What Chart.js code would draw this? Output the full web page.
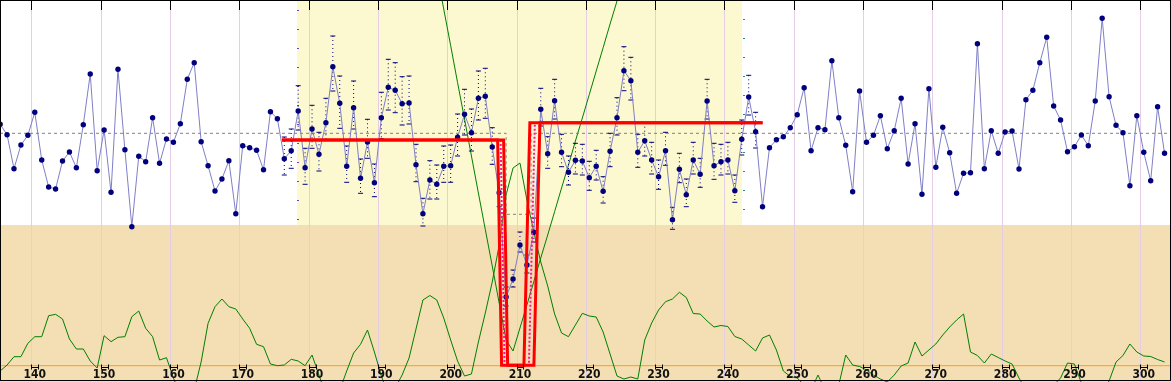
<!DOCTYPE html>
<html><head><meta charset="utf-8">
<script src="https://cdn.jsdelivr.net/npm/chart.js@4.4.1/dist/chart.umd.min.js"></script>
<style>html,body{margin:0;padding:0;background:#fff;overflow:hidden}canvas{display:block}</style>
</head><body>
<canvas id="c" width="1171" height="382"></canvas>
<script>
// ---------- data ----------
const FIRST_CATEGORY = 135;
const measurements = [
 24.14,23.10,19.70,22.07,23.04,25.34,20.57,17.87,17.67,20.47,
 21.37,19.80,24.10,29.17,19.50,23.57,17.34,29.64,21.60,13.90,
 20.94,20.40,24.80,20.24,22.67,22.34,24.20,28.64,30.30,22.40,
 20.00,17.47,18.67,20.50,15.20,22.00,21.80,21.54,19.60,25.40,
 24.70,20.70,21.50,25.47,19.80,23.67,21.14,24.30,29.90,26.24,
 19.94,25.80,18.74,22.37,18.30,24.80,27.84,27.54,26.20,26.27,
 20.10,15.20,18.57,18.14,19.94,20.00,22.84,25.14,23.30,26.74,
 26.94,21.87,17.30,6.87,8.67,12.07,10.07,13.34,25.64,21.20,
 26.50,21.34,19.34,20.54,20.47,18.80,19.94,17.44,21.44,24.80,
 29.50,28.50,21.34,22.50,20.57,18.90,21.50,14.60,19.64,17.10,
 20.57,19.14,26.47,20.00,20.40,20.57,17.50,22.64,26.87,23.40,
 15.90,21.80,22.60,22.90,23.80,25.10,27.80,21.50,23.80,23.60,
 30.50,24.80,22.04,17.40,27.47,22.34,23.04,25.00,21.70,23.50,
 26.74,20.17,24.20,17.14,27.70,19.84,23.84,21.30,17.24,19.24,
 19.30,32.20,19.70,23.50,21.24,23.37,23.47,19.67,26.60,27.54,
 30.30,32.84,25.97,24.57,21.40,21.90,23.07,22.00,26.47,34.74,
 26.90,24.04,23.30,18.00,25.00,21.34,18.50,25.90,21.24];

const ERR_FIRST = 176;
const errUpper = [
 22.87,23.67,28.00,21.74,26.04,23.34,26.74,32.97,28.97,21.97,
 28.47,20.67,24.64,20.17,27.34,30.64,30.30,28.90,28.97,22.14,
 16.74,20.50,20.07,21.97,22.07,25.17,27.64,25.67,29.47,29.74,
 23.80,19.17,7.87,9.57,13.37,11.07,14.77,27.74,22.90,28.64,
 23.14,20.97,22.24,22.14,20.44,21.54,18.90,23.24,26.80,31.90,
 30.84,23.14,24.30,22.34,20.57,23.34,15.84,21.24,18.67,22.34,
 20.74,28.64,22.24,22.14,22.34,19.07,24.57,29.04,25.34];
const errLower = [
 19.07,19.74,23.57,18.14,21.74,19.47,22.57,27.47,23.74,18.34,
 23.67,17.24,20.74,16.90,22.70,25.57,25.30,24.07,24.17,18.40,
 13.97,16.67,16.67,18.34,18.34,20.97,23.07,21.47,24.57,24.74,
 20.14,15.90,5.97,7.87,11.37,9.27,12.37,23.97,19.74,24.67,
 19.90,18.07,19.17,19.07,17.54,18.57,16.27,19.90,23.07,27.50,
 26.57,19.84,20.97,19.17,17.64,20.04,13.64,18.30,15.90,19.17,
 17.84,24.67,18.64,19.07,19.17,16.34,21.07,25.07,21.77];

const statValues = [
 -0.53,0.07,0.90,0.90,2.24,2.90,2.90,5.00,5.14,4.67,
 2.67,1.67,1.67,0.47,-0.23,3.00,2.40,2.84,2.90,4.90,
 5.47,3.74,2.90,0.57,0.80,-1.23,-2.93,-3.43,-2.43,0.37,
 4.24,5.90,6.67,5.90,5.67,4.67,3.74,2.14,1.90,0.17,
 0.00,0.07,0.64,0.47,0.00,1.07,-0.93,-2.93,-3.43,-2.43,
 -0.53,1.27,2.14,3.57,1.37,-1.03,-2.93,-2.23,-0.93,0.77,
 3.67,6.57,7.02,6.57,4.77,2.57,0.47,-1.03,-0.83,2.37,
 5.27,8.37,12.07,17.07,19.77,20.27,16.57,13.37,10.37,7.97,
 5.17,3.27,2.90,4.07,5.24,4.97,4.87,3.37,1.17,-1.03,
 -1.33,-1.13,-1.33,2.57,4.27,5.57,6.40,6.67,7.34,6.82,
 5.22,5.17,4.47,3.87,4.02,3.92,2.92,2.67,2.07,1.47,
 2.77,3.07,1.57,-0.53,-1.08,-1.23,-1.93,-2.43,-0.93,-2.43,
 -2.93,-1.93,1.07,0.07,-0.08,-0.43,-0.93,-1.33,-1.63,-0.93,
 -0.03,0.27,2.37,0.97,1.57,2.17,3.07,3.87,4.57,5.17,
 1.37,1.02,0.27,1.17,0.82,0.47,0.17,-1.23,-2.43,-2.93,
 -2.93,-2.43,-1.93,-1.23,0.27,0.17,-1.73,-2.93,-2.93,-2.43,
 -1.53,0.37,1.02,2.17,1.37,0.97,0.92,0.62,0.37];

const PROFILE_FIRST = 198;
const profileValues = [39.33,35.67,32.01,28.30,24.67,20.97,17.27,13.62,9.97,6.27,
 2.57,1.47,3.77,6.07,8.42,10.77,13.07,15.41,17.77,20.07,22.47,24.77,27.11,29.47,31.80,34.17,36.47,38.77];

const meanLevel = 23.24, dipLevel = 15.14, dipFrom = 208.0, dipTo = 211.6;
const fitOuter = [[175.66,22.57],[206.78,22.57],[207.35,0.05],[212.01,0.05],[212.88,24.30],[245.0,24.30]];
const fitInner = [[175.66,22.57],[207.64,22.57],[208.22,0.05],[210.57,0.05],[211.43,24.30],[245.0,24.30]];
const fitCentre = [[207.21,22.57],[207.78,0.05],[211.29,0.05],[212.15,24.30]];

const tickLabels = [140,150,160,170,180,190,200,210,220,230,240,250,260,270,280,290,300];
const BAND_FROM = 177.9, BAND_TO = 242.0, TAN_LEVEL = 14.07;
const X_MIN = 134.98, X_MAX = 303.93, Y_MIN = -1.63, Y_MAX = 36.57;

// ---------- build ----------
const categories = measurements.map((_, i) => FIRST_CATEGORY + i);
const blueData = categories.map((c, i) => ({x: c, y: measurements[i]}));
const capData = [], barData = [];
errUpper.forEach((u, i) => {
  const c = ERR_FIRST + i;
  capData.push({x: c, y: u}, {x: c, y: errLower[i]});
  barData.push({x: c, y: u}, {x: c, y: errLower[i]}, {x: c, y: null});
});
const statData = categories.map((c, i) => ({x: c, y: statValues[i]}));
const profileData = profileValues.map((v, i) => ({x: PROFILE_FIRST + i, y: v}));
const meanData = [{x: X_MIN, y: meanLevel}, {x: dipFrom, y: meanLevel}, {x: dipFrom, y: dipLevel},
                  {x: dipTo, y: dipLevel}, {x: dipTo, y: meanLevel}, {x: X_MAX, y: meanLevel}];
const toXY = arr => arr.map(p => ({x: p[0], y: p[1]}));

const line = (data, color, width, extra) => Object.assign({
  data, borderColor: color, borderWidth: width, pointRadius: 0, fill: false, tension: 0
}, extra || {});

const decor = {
  id: 'decor',
  beforeDatasetsDraw(chart) {
    const {ctx, chartArea: a, scales: {x, y}} = chart;
    ctx.save();
    const yT = Math.round(y.getPixelForValue(TAN_LEVEL));
    ctx.fillStyle = '#ffffff'; ctx.fillRect(a.left, a.top, a.width, a.height);
    const bx0 = Math.round(x.getPixelForValue(BAND_FROM)), bx1 = Math.round(x.getPixelForValue(BAND_TO));
    ctx.fillStyle = '#fcf8cf'; ctx.fillRect(bx0, a.top, bx1 - bx0, yT - a.top);
    ctx.fillStyle = '#f4deb4'; ctx.fillRect(a.left, yT, a.width, a.bottom - yT);
    ctx.strokeStyle = '#e6cde6'; ctx.lineWidth = 1;
    tickLabels.forEach(t => {
      const px = Math.round(x.getPixelForValue(t - 0.5)) + 0.5;
      ctx.beginPath(); ctx.moveTo(px, a.top); ctx.lineTo(px, a.bottom); ctx.stroke();
    });
    ctx.strokeStyle = '#7a3fc0';
    for (let v = Y_MAX - 1.03; v > TAN_LEVEL; v -= 1.9) {
      const py = Math.round(y.getPixelForValue(v)) + 0.5;
      ctx.beginPath(); ctx.moveTo(bx0, py); ctx.lineTo(bx0 + 2, py); ctx.stroke();
    }
    ctx.strokeStyle = '#2a8a8a';
    for (let v = Y_MAX - 1.93; v > TAN_LEVEL; v -= 1.9) {
      const py = Math.round(y.getPixelForValue(v)) + 0.5;
      ctx.beginPath(); ctx.moveTo(bx1 + 1, py); ctx.lineTo(bx1 + 3, py); ctx.stroke();
    }
    ctx.restore();
  },
  afterDraw(chart) {
    const {ctx, scales: {x, y}} = chart;
    ctx.save();
    const base = y.getPixelForValue(0);
    ctx.strokeStyle = '#000'; ctx.lineWidth = 1;
    tickLabels.forEach(t => {
      const px = Math.round(x.getPixelForValue(t - 0.5)) + 0.5;
      ctx.beginPath(); ctx.moveTo(px, 0); ctx.lineTo(px, 10); ctx.stroke();
      const l = Math.round(x.getPixelForValue(t - 0.5)) + 0.5, r = Math.round(x.getPixelForValue(t + 0.5)) + 0.5;
      const by = Math.round(base + 1) + 0.5;
      ctx.beginPath(); ctx.moveTo(l, by); ctx.lineTo(r, by);
      ctx.moveTo(l, by - 3); ctx.lineTo(l, by + 2); ctx.moveTo(r, by - 3); ctx.lineTo(r, by + 2); ctx.stroke();
    });
    ctx.fillStyle = '#111'; ctx.font = 'bold 12px "Liberation Sans Narrow", "DejaVu Sans Condensed", sans-serif';
    ctx.textAlign = 'center'; ctx.textBaseline = 'middle';
    tickLabels.forEach(t => ctx.fillText(String(t), x.getPixelForValue(t), base + 9.5));
    ctx.strokeRect(0.5, 0.5, 1170, 380);
    ctx.restore();
  }
};

new Chart(document.getElementById('c'), {
  type: 'line',
  data: { datasets: [
    line(toXY(fitOuter), '#ff0000', 3),
    line(toXY(fitInner), '#ff0000', 3),
    line(toXY(fitCentre), '#ff1493', 2, {borderDash: [2, 2]}),
    line(blueData, '#7f7fc8', 1, {pointRadius: 2.7, pointBackgroundColor: '#00007f', pointBorderWidth: 0, pointStyle: 'circle'}),
    line(capData, '#00007f', 1, {showLine: false, pointRadius: 2.5, pointStyle: 'line', pointBorderColor: '#00007f', pointBorderWidth: 1}),
    line(barData, '#00007f', 1, {borderDash: [1, 3], spanGaps: false}),
    line(meanData, '#808080', 1, {borderDash: [3, 3]}),
    line(profileData, '#008000', 1),
    line(statData, '#008000', 1),
    line([{x: X_MIN, y: 0}, {x: X_MAX, y: 0}], '#f5a020', 1)
  ]},
  options: {
    responsive: false, animation: false, events: [],
    layout: { padding: 0, autoPadding: false },
    plugins: { legend: {display: false}, tooltip: {enabled: false} },
    scales: {
      x: { type: 'linear', min: X_MIN, max: X_MAX, display: false },
      y: { type: 'linear', min: Y_MIN, max: Y_MAX, display: false }
    }
  },
  plugins: [decor]
});
</script>
</body></html>
